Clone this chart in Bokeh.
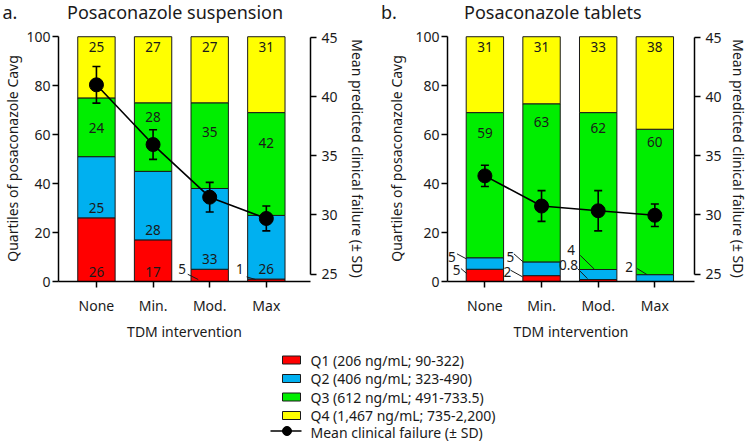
import numpy as np
from bokeh.plotting import figure
from bokeh.models import (Range1d, LinearAxis, FixedTicker, ColumnDataSource,
                          Whisker, TeeHead)
from bokeh.layouts import row, column
from bokeh.embed import file_html
from bokeh.resources import INLINE
from bokeh.core.properties import value

# ---------------- data ----------------
categories = ["None", "Min.", "Mod.", "Max"]
quartile_names = ["Q1 (206 ng/mL; 90-322)", "Q2 (406 ng/mL; 323-490)",
                  "Q3 (612 ng/mL; 491-733.5)", "Q4 (1,467 ng/mL; 735-2,200)"]
mean_name = "Mean clinical failure (\u00b1 SD)"
panel_letters = ["a.", "b."]
panel_titles = ["Posaconazole suspension", "Posaconazole tablets"]

# a. Posaconazole suspension: % of patients per quartile (bar heights)
susp_q1 = [26, 17, 5, 1]
susp_q2 = [25, 28, 33, 26]
susp_q3 = [24, 28, 35, 42]
susp_q4 = [25, 27, 27, 31]
susp_lab_q1 = ["26", "17", "5", "1"]
susp_lab_q2 = ["25", "28", "33", "26"]
susp_lab_q3 = ["24", "28", "35", "42"]
susp_lab_q4 = ["25", "27", "27", "31"]
susp_fail_mean = [41.0, 35.95, 31.5, 29.7]
susp_fail_sd = [1.55, 1.25, 1.25, 1.05]

# b. Posaconazole tablets (bar heights; printed labels below)
tab_q1 = [5.0, 2.4, 0.8, 0.0]
tab_q2 = [4.7, 5.6, 4.1, 2.8]
tab_q3 = [59.3, 64.6, 64.1, 59.4]
tab_q4 = [31.0, 27.4, 31.0, 37.8]
tab_lab_q1 = ["5", "2", "0.8", ""]
tab_lab_q2 = ["5", "5", "4", "2"]
tab_lab_q3 = ["59", "63", "62", "60"]
tab_lab_q4 = ["31", "31", "33", "38"]
tab_fail_mean = [33.3, 30.75, 30.35, 29.97]
tab_fail_sd = [0.9, 1.3, 1.7, 0.95]

# ---------------- style / layout ----------------
FONT = "Noto Sans"
TXT = "#1a1a1a"
COLORS = ["#ff0000", "#00b0f0", "#00ee00", "#ffff00"]
OUTLINE = "#1a1a1a"
BAR_W = 0.66
LBL_SIZE = "13.5px"
TICK_SIZE = "14px"
AXLBL_SIZE = "14px"
PAGE_W = 750
TITLE_H = 24
TOP, FRAME_H, BOTTOM = 11, 248, 60
Y_END = 100.5
PANEL_H = TOP + FRAME_H + BOTTOM

# y position of Q3 labels (data units) per panel
susp_q3_label_y = [62.8, 67.3, 61.2, 56.7]
tab_q3_label_y = [60.7, 65.0, 62.9, 56.8]
# callouts: (quartile, bar) -> (label dx, label y, leader dx0, y0, dx1, y1); dx relative to bar left edge
susp_callouts = {
    (0, 2): (-0.158, 5.3, -0.058, 2.96, 0.128, 0.8),
    (0, 3): (-0.137, 5.3, -0.018, 1.9, 0.14, 0.8),
}
tab_callouts = {
    (1, 0): (-0.255, 10.1, -0.163, 11.3, 0.0, 9.3),
    (0, 0): (-0.167, 4.5, -0.093, 5.3, 0.012, 3.2),
    (1, 1): (-0.22, 10.1, -0.158, 11.3, 0.0, 8.1),
    (0, 1): (-0.272, 4.05, -0.216, 4.6, -0.005, 1.9),
    (1, 2): (-0.149, 12.7, 0.012, 10.7, 0.264, 5.0),
    (0, 2): (-0.193, 6.9, -0.035, 5.3, 0.14, 1.2),
    (1, 3): (-0.123, 6.1, 0.018, 5.3, 0.193, 2.8),
}


def make_panel(width, b_left, b_right, x_range, q_vals, q_labs, q3_y, callouts,
               f_mean, f_sd, left_std, right_std):
    p = figure(width=width, height=PANEL_H, output_backend="svg", toolbar_location=None,
               x_range=Range1d(*x_range), y_range=Range1d(0, Y_END),
               min_border_left=b_left, min_border_right=b_right,
               min_border_top=TOP, min_border_bottom=BOTTOM)
    p.extra_y_ranges = {"fail": Range1d(24.37, 45.17)}
    p.outline_line_color = None
    p.grid.grid_line_color = None
    p.background_fill_color = "white"
    p.border_fill_color = "white"

    x = np.arange(len(categories), dtype=float)
    vals = np.array(q_vals, dtype=float)
    tops = np.cumsum(vals, axis=0)
    bottoms = tops - vals

    for qi in range(4):
        keep = vals[qi] > 0
        src = ColumnDataSource(dict(x=x[keep], bottom=bottoms[qi][keep], top=tops[qi][keep]))
        p.vbar(x="x", bottom="bottom", top="top", width=BAR_W, source=src,
               fill_color=COLORS[qi], line_color=OUTLINE, line_width=1)

    # segment labels
    tx, ty, tt = [], [], []
    sx0, sy0, sx1, sy1 = [], [], [], []
    for qi in range(4):
        for bi in range(len(categories)):
            lab = q_labs[qi][bi]
            if not lab:
                continue
            left = x[bi] - BAR_W / 2
            if (qi, bi) in callouts:
                dx, ly, ax0, ay0, ax1, ay1 = callouts[(qi, bi)]
                tx.append(left + dx); ty.append(ly); tt.append(lab)
                sx0.append(left + ax0); sy0.append(ay0)
                sx1.append(left + ax1); sy1.append(ay1)
                continue
            if qi == 3:
                yy = tops[qi][bi] - 4.2
            elif qi == 2:
                yy = q3_y[bi]
            else:
                yy = bottoms[qi][bi] + 4.0
            tx.append(x[bi]); ty.append(yy); tt.append(lab)
    p.segment(x0=sx0, y0=sy0, x1=sx1, y1=sy1, line_color=TXT, line_width=1)
    p.text(x=tx, y=ty, text=tt, text_font=value(FONT), text_font_size=LBL_SIZE,
           text_align="center", text_baseline="middle", text_color=TXT)

    # mean clinical failure with SD
    fm = np.array(f_mean)
    fs = np.array(f_sd)
    fsrc = ColumnDataSource(dict(x=x, mean=fm, upper=fm + fs, lower=fm - fs))
    p.line(x="x", y="mean", source=fsrc, y_range_name="fail", line_color="black", line_width=1.6)
    wh = Whisker(base="x", upper="upper", lower="lower", source=fsrc, y_range_name="fail",
                 line_color="black", line_width=1.6, level="overlay",
                 upper_head=TeeHead(size=8, line_width=1.6, line_color="black"),
                 lower_head=TeeHead(size=8, line_width=1.6, line_color="black"))
    p.add_layout(wh)
    p.scatter(x="x", y="mean", source=fsrc, y_range_name="fail", size=14,
              fill_color="black", line_color="black")

    # axes
    ax_common = dict(axis_line_width=1.5, axis_line_color="black",
                     major_tick_line_width=1.5, major_tick_line_color="black",
                     major_tick_in=0, major_tick_out=6,
                     minor_tick_line_color=None,
                     major_label_text_font=FONT, major_label_text_font_size=TICK_SIZE,
                     major_label_text_color=TXT,
                     axis_label_text_font=FONT, axis_label_text_font_size=AXLBL_SIZE,
                     axis_label_text_font_style="normal", axis_label_text_color=TXT)
    xa = p.xaxis[0]
    xa.update(**ax_common)
    xa.ticker = FixedTicker(ticks=list(x))
    xa.major_label_overrides = {int(i): c for i, c in enumerate(categories)}
    xa.major_label_standoff = 8
    xa.axis_label = "TDM intervention"
    xa.axis_label_standoff = 4

    ya = p.yaxis[0]
    ya.update(**ax_common)
    ya.ticker = FixedTicker(ticks=[0, 20, 40, 60, 80, 100])
    ya.bounds = (0, 100)
    ya.major_label_standoff = 2
    ya.axis_label = "Quartiles of posaconazole Cavg"
    ya.axis_label_standoff = left_std

    ra = LinearAxis(y_range_name="fail", ticker=FixedTicker(ticks=[25, 30, 35, 40, 45]),
                    bounds=(25, 45), axis_label="Mean predicted clinical failure (\u00b1 SD)",
                    **ax_common)
    ra.major_label_standoff = 5
    ra.axis_label_standoff = right_std
    p.add_layout(ra, "right")
    return p


# ---------------- title strip ----------------
pt = figure(width=PAGE_W, height=TITLE_H, output_backend="svg", toolbar_location=None,
            x_range=Range1d(0, PAGE_W), y_range=Range1d(TITLE_H, 0), min_border=0)
pt.axis.visible = False
pt.grid.grid_line_color = None
pt.outline_line_color = None
letter_x, letter_mid = [2, 380.5], [11.0, 11.5]
title_x, title_mid = [66.5, 463.5], [11.0, 11.5]
pt.text(x=letter_x + title_x, y=letter_mid + title_mid,
        text=panel_letters + panel_titles, text_font=value(FONT), text_font_size="18px",
        text_align="left", text_baseline="middle", text_color=TXT)

p1 = make_panel(372, 57, 62, (-0.67, 3.78),
                [susp_q1, susp_q2, susp_q3, susp_q4],
                [susp_lab_q1, susp_lab_q2, susp_lab_q3, susp_lab_q4],
                susp_q3_label_y, susp_callouts, susp_fail_mean, susp_fail_sd, 1, 7)
p2 = make_panel(378, 75, 55, (-0.66, 3.70),
                [tab_q1, tab_q2, tab_q3, tab_q4],
                [tab_lab_q1, tab_lab_q2, tab_lab_q3, tab_lab_q4],
                tab_q3_label_y, tab_callouts, tab_fail_mean, tab_fail_sd, 6, 4)

# ---------------- legend ----------------
LH = 99
pl = figure(width=PAGE_W, height=LH, output_backend="svg", toolbar_location=None,
            x_range=Range1d(0, PAGE_W), y_range=Range1d(LH, 0), min_border=0)
pl.axis.visible = False
pl.grid.grid_line_color = None
pl.outline_line_color = None
row_y = [16.5, 35.0, 53.5, 72.0, 88.5]
sw_x0, sw_x1, txt_x = 282, 300, 310
nq = len(quartile_names)
pl.quad(left=[sw_x0] * nq, right=[sw_x1] * nq,
        bottom=[y - 4 for y in row_y[:nq]], top=[y + 4 for y in row_y[:nq]],
        fill_color=COLORS, line_color=OUTLINE, line_width=1)
pl.line(x=[270, 301], y=[row_y[nq] - 1] * 2, line_color="black", line_width=1.6)
pl.scatter(x=[286.5], y=[row_y[nq] - 1], size=9, fill_color="black", line_color="black")
pl.text(x=[txt_x] * (nq + 1), y=row_y, text=quartile_names + [mean_name],
        text_font=value(FONT), text_font_size="14px", text_align="left",
        text_baseline="middle", text_color=TXT)

layout = column(pt, row(p1, p2), pl)
open("out.html", "w").write(file_html(layout, INLINE))
